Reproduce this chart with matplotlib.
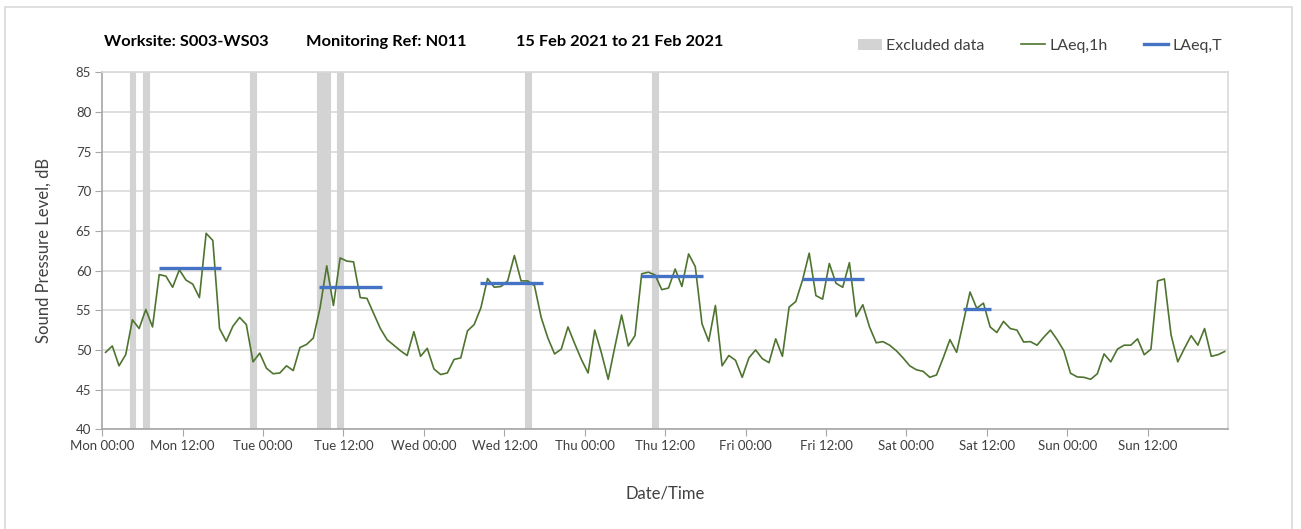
import numpy as np
import matplotlib
matplotlib.use('Agg')
import matplotlib.pyplot as plt
from matplotlib.patches import Patch, Rectangle
from matplotlib.lines import Line2D

plt.rcParams['font.family'] = ['Lato', 'DejaVu Sans']

# Hourly LAeq,1h values (dB), Mon 00:00 .. Sun 23:00
laeq_1h = [
    49.7, 50.5, 48.0, 49.4, 53.8, 52.7, 55.1, 52.9, 59.5, 59.3, 57.9, 60.1,
    58.8, 58.3, 56.6, 64.7, 63.8, 52.7, 51.1, 53.0, 54.1, 53.2, 48.5, 49.6,
    47.7, 47.0, 47.1, 48.0, 47.4, 50.3, 50.7, 51.5, 55.3, 60.6, 55.6, 61.6,
    61.2, 61.1, 56.6, 56.5, 54.6, 52.7, 51.3, 50.6, 49.9, 49.3, 52.3, 49.2,
    50.2, 47.6, 46.9, 47.1, 48.8, 49.0, 52.4, 53.2, 55.3, 59.0, 57.9, 58.0,
    58.7, 61.9, 58.7, 58.7, 58.1, 54.1, 51.5, 49.5, 50.1, 52.9, 50.8, 48.8,
    47.1, 52.5, 49.6, 46.3, 50.4, 54.4, 50.5, 51.8, 59.6, 59.8, 59.45, 57.6,
    57.8, 60.2, 58.0, 62.1, 60.5, 53.3, 51.1, 55.6, 48.0, 49.3, 48.7, 46.55,
    49.0, 50.0, 48.9, 48.4, 51.4, 49.2, 55.4, 56.1, 58.8, 62.2, 56.85, 56.4,
    60.9, 58.4, 57.9, 61.0, 54.2, 55.7, 52.9, 50.9, 51.05, 50.6, 49.9, 49.0,
    48.0, 47.5, 47.3, 46.55, 46.85, 49.0, 51.3, 49.7, 53.5, 57.3, 55.25, 55.9,
    52.9, 52.2, 53.6, 52.7, 52.5, 51.0, 51.05, 50.6, 51.6, 52.5, 51.3, 49.9,
    47.06, 46.6, 46.55, 46.3, 47.0, 49.5, 48.5, 50.1, 50.6, 50.6, 51.4, 49.4,
    50.1, 58.7, 58.95, 51.9, 48.5, 50.2, 51.8, 50.6, 52.7, 49.2, 49.4, 49.8,
]

# Excluded hours (hour index from Mon 00:00)
excluded_hours = [4, 6, 22, 32, 33, 35, 63, 82]

# Daytime LAeq,T per day (Mon..Sat), period start / end in hours of that day
laeqt_values = [60.3, 57.9, 58.45, 59.3, 58.9, 55.2]
laeqt_start = [8.4, 8.4, 8.4, 8.4, 8.4, 8.4]
laeqt_end = [17.7, 17.7, 17.7, 17.7, 17.7, 12.7]

day_names = ['Mon', 'Tue', 'Wed', 'Thu', 'Fri', 'Sat', 'Sun']

fig = plt.figure(figsize=(13.01, 5.29), dpi=100)
ax = fig.add_axes([0.0786, 0.1885, 0.8653, 0.6749])

# frame round the whole chart
fig.patches.append(Rectangle((5 / 1301, -0.05), 1287 / 1301, 1.05 - 7 / 529,
                             transform=fig.transFigure, fill=False,
                             edgecolor='#d9d9d9', linewidth=1.2))

hours = np.arange(len(laeq_1h)) + 0.5

ax.bar(np.array(excluded_hours) + 0.5, [45] * len(excluded_hours), bottom=40,
       width=0.86, color='#d3d3d3', edgecolor='#d3d3d3', linewidth=0.8, zorder=1)

ax.plot(hours, laeq_1h, color='#4e7430', linewidth=1.2, zorder=3)

for d, v in enumerate(laeqt_values):
    ax.hlines(v, d * 24 + laeqt_start[d], d * 24 + laeqt_end[d],
              color='#4472c4', linewidth=2.4, zorder=4)

ax.set_xlim(0, 168)
ax.set_ylim(40, 85)
ax.set_yticks(np.arange(40, 86, 5))
ax.set_xticks(np.arange(0, 168, 12))
ax.set_xticklabels([f'{day_names[i // 2]} {"00:00" if i % 2 == 0 else "12:00"}'
                    for i in range(14)])
ax.set_xticks(np.arange(24, 168, 24), minor=True)
ax.tick_params(axis='x', which='minor', length=0)
ax.tick_params(axis='both', which='major', length=5, color='#a6a6a6',
               labelsize=9.5, labelcolor='#404040', pad=3)

ax.grid(axis='y', color='#d9d9d9', linewidth=1.2, zorder=0)
ax.grid(axis='x', which='minor', color='#e3e3e3', linewidth=1.2, zorder=0)
ax.set_axisbelow(True)
for s in ax.spines.values():
    s.set_color('#a6a6a6')
    s.set_linewidth(1.2)
ax.spines['top'].set_color('#d9d9d9')
ax.spines['right'].set_color('#d9d9d9')

ax.set_ylabel('Sound Pressure Level, dB', fontsize=12, color='#404040', labelpad=17)
ax.set_xlabel('Date/Time', fontsize=12, color='#404040', labelpad=24)

# title pieces
fig.text(104 / 1301, 1 - 42 / 529, 'Worksite: S003-WS03', fontsize=11.8,
         fontweight='bold', va='center', ha='left')
fig.text(306 / 1301, 1 - 42 / 529, 'Monitoring Ref: N011', fontsize=11.8,
         fontweight='bold', va='center', ha='left')
fig.text(516 / 1301, 1 - 42 / 529, '15 Feb 2021 to 21 Feb 2021', fontsize=11.8,
         fontweight='bold', va='center', ha='left')

handles = [Patch(facecolor='#d3d3d3', edgecolor='none'),
           Line2D([], [], color='#4e7430', linewidth=1.2),
           Line2D([], [], color='#4472c4', linewidth=2.4)]
fig.legend(handles, ['Excluded data', 'LAeq,1h', 'LAeq,T'], ncol=3,
           loc='center left', bbox_to_anchor=(844 / 1301, 1 - 46 / 529),
           frameon=False, fontsize=11.5, handlelength=1.5, handletextpad=0.25,
           columnspacing=2.3, labelcolor='#404040')

fig.savefig('out.png', dpi=100)
